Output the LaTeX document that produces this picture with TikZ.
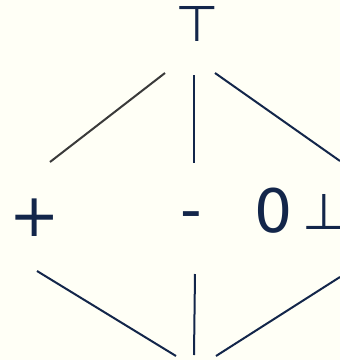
\documentclass[tikz,border=0pt]{standalone}
\usepackage{fontspec}
\setmainfont{DejaVu Sans}
\definecolor{navy}{HTML}{13264A}
\definecolor{greyline}{HTML}{3A3A3A}
\definecolor{paper}{HTML}{FFFFF6}
\tikzset{
  elem/.style={text=navy, inner sep=0pt, font=\fontsize{60}{72}\selectfont},
  bound/.style={text=navy, inner sep=0pt, font=\fontsize{50}{60}\selectfont},
  edge/.style={draw=navy, line width=2pt},
}
\begin{document}
\begin{tikzpicture}[x=1pt, y=-1pt]
        % paper and frame
        \fill[paper] (0,0) rectangle (340,360);
        \useasboundingbox (0,0) rectangle (340,360);

        % lattice elements
        \node[bound] (top) at (197,24) {⊤};
        \node[elem] (plus) at (35,218) {+};
        \node[elem] (minus) at (191,221) {-};
        \node[elem] (zero) at (274,211) {0};
        \node[bound] (bot) at (324,212) {⊥};

        % upper edges
        \coordinate (tl) at (165,73);
        \coordinate (pl) at (50,162);
        \coordinate (tc) at (194,75);
        \coordinate (mc) at (194,163);
        \coordinate (tr) at (215,73);
        \coordinate (rr) at (340,161);
        \draw[edge, draw=greyline] (tl) -- (pl);
        \draw[edge] (tc) -- (mc);
        \draw[edge] (tr) -- (rr);

        % lower edges
        \coordinate (pb) at (37,271);
        \coordinate (bl) at (176,356);
        \coordinate (mb) at (195,274);
        \coordinate (bc) at (194,355);
        \coordinate (rb) at (340,277);
        \coordinate (br) at (216,356);
        \draw[edge] (pb) -- (bl);
        \draw[edge] (mb) -- (bc);
        \draw[edge] (rb) -- (br);
\end{tikzpicture}
\end{document}
